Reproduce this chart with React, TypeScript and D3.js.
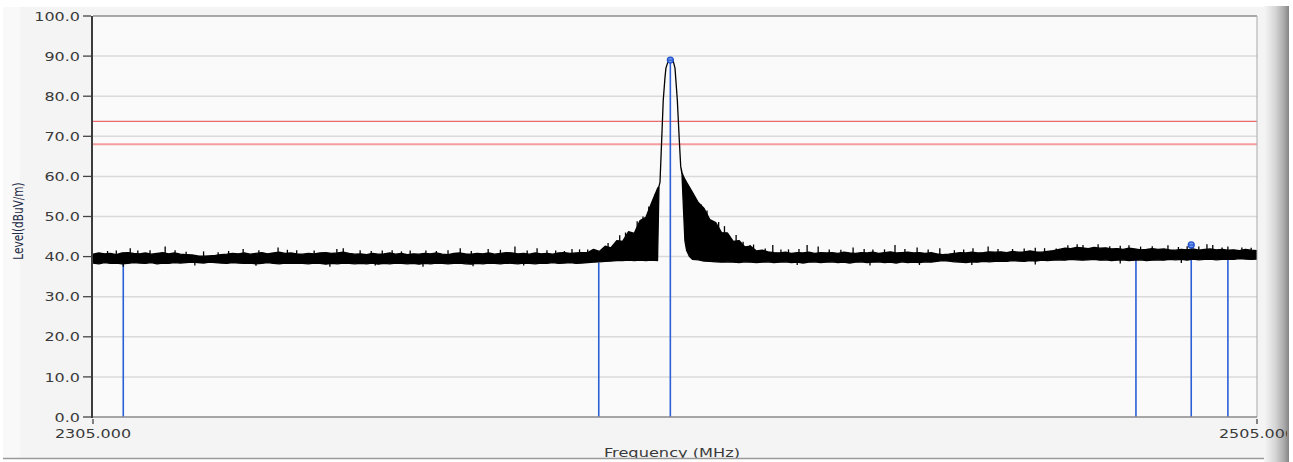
import * as d3 from "d3";

// spectrum trace (dBuV/m)
// noise band left of the carrier, 1 MHz steps from 2305 to 2402
const leftFreq = d3.range(2305, 2403);
const leftHi = [
  40.6, 40.9, 40.7, 40.8, 40.5, 40.9, 41.0, 40.8, 40.7, 40.9, 40.6, 40.8, 41.0, 40.7, 40.9, 40.6,
  40.5, 40.4, 40.2, 40.1, 40.2, 40.3, 40.5, 40.6, 40.8, 40.7,
  40.9, 40.6, 40.8, 41.0, 40.7, 40.9, 41.1, 40.8, 40.9, 40.7,
  40.6, 40.8, 40.7, 40.9, 41.0, 40.8, 40.9, 41.1, 40.8, 40.6,
  40.7, 40.5, 40.8, 40.6, 40.7, 40.9, 40.6, 40.8, 40.5, 40.7,
  40.6, 40.8, 40.7, 40.9, 40.6, 40.5, 40.8, 40.9, 40.7, 40.6,
  40.8, 40.7, 40.9, 40.6, 40.8, 41.0, 40.9, 40.7, 40.8, 40.6,
  40.9, 40.7, 40.8, 40.6, 40.9, 41.0, 40.8, 40.9, 41.0,
  41.0, 41.8, 41.3, 42.6, 42.2, 44.0, 43.8, 46.2, 45.8, 49.0, 49.8, 53.5, 57.0,
];
const leftLo = [
  38.4, 38.2, 38.5, 38.3, 38.4, 38.2, 38.3, 38.5, 38.4, 38.3, 38.5, 38.2, 38.4, 38.3, 38.5, 38.4,
  38.5, 38.6, 38.5, 38.4, 38.6, 38.5, 38.4, 38.3, 38.5, 38.4,
  38.3, 38.4, 38.2, 38.3, 38.5, 38.3, 38.2, 38.4, 38.3, 38.4,
  38.3, 38.2, 38.4, 38.3, 38.1, 38.3, 38.2, 38.4, 38.3, 38.2,
  38.3, 38.2, 38.4, 38.1, 38.3, 38.2, 38.4, 38.3, 38.2, 38.3,
  38.1, 38.3, 38.2, 38.4, 38.3, 38.2, 38.3, 38.4, 38.2, 38.1,
  38.3, 38.2, 38.4, 38.3, 38.2, 38.4, 38.3, 38.2, 38.4, 38.3,
  38.2, 38.4, 38.3, 38.5, 38.3, 38.4, 38.5, 38.3, 38.4,
  38.5, 38.6, 38.7, 38.8, 38.9, 39.0, 39.0, 39.1, 39.0, 39.1, 39.0, 39.1, 39.0,
];

// main lobe of the carrier (smooth trace)
const lobeFreq = [2402.25, 2402.42, 2402.71, 2402.98, 2403.27, 2403.44, 2403.84, 2404.14, 2404.48, 2404.74, 2405.0, 2405.4, 2405.74, 2405.98];
const lobeLevel = [57.5, 58.5, 69.0, 79.0, 84.5, 87.0, 88.8, 89.2, 89.2, 88.5, 87.0, 79.0, 69.0, 62.5];

// start of the right skirt
const skirtFreq = [2406.2, 2406.45, 2406.7, 2407.0, 2407.5, 2408.0];
const skirtHi = [61.0, 60.0, 59.3, 58.5, 57.3, 56.0];
const skirtLo = [60.5, 52.0, 44.0, 41.5, 40.0, 39.3];

// noise band right of the carrier, 1 MHz steps from 2409 to 2505
const rightFreq = d3.range(2409, 2506);
const rightHi = [
  53.5, 52.0, 49.2, 48.5, 46.0, 45.9, 43.8, 44.0, 42.4, 42.6, 41.4, 41.6,
  41.2, 41.0, 40.9, 41.1, 40.8, 41.0, 40.9, 41.1, 40.8, 41.0,
  40.9, 41.0, 40.8, 41.1, 40.9, 40.8, 41.0, 40.9, 41.1, 40.8,
  41.0, 41.2, 40.9, 41.0, 41.1, 40.9, 41.0, 40.8, 41.0, 40.7,
  40.5, 40.6, 40.8, 41.0, 40.9, 41.1, 40.9, 41.0, 41.2, 41.1,
  41.2, 41.0, 41.3, 41.1, 41.2, 41.4, 41.2, 41.1, 41.3, 41.5,
  41.8, 42.1, 42.0, 42.3, 42.2, 42.0, 42.3, 42.1, 42.2, 41.9,
  42.0, 41.8, 42.1, 41.9, 41.7, 41.8, 42.0, 41.8, 41.9, 41.7,
  41.6, 41.8, 41.7, 41.9, 41.6, 41.8, 41.9, 41.7, 41.8, 41.6,
  41.7, 41.5, 41.8, 41.6, 41.5,
];
const rightLo = [
  39.2, 38.9, 38.8, 38.7, 38.6, 38.7, 38.6, 38.5, 38.7, 38.6, 38.5, 38.6,
  38.7, 38.5, 38.6, 38.7, 38.5, 38.6, 38.4, 38.6, 38.7, 38.5,
  38.6, 38.7, 38.5, 38.6, 38.4, 38.6, 38.7, 38.5, 38.6, 38.7,
  38.5, 38.6, 38.4, 38.7, 38.5, 38.6, 38.5, 38.7, 38.6, 38.8,
  39.0, 38.9, 38.7, 38.6, 38.5, 38.7, 38.6, 38.8, 38.7, 38.8,
  38.9, 38.8, 39.0, 38.9, 38.8, 39.0, 38.9, 39.1, 39.0, 39.1,
  39.2, 39.1, 39.3, 39.2, 39.1, 39.2, 39.3, 39.1, 39.2, 39.0,
  39.1, 39.2, 39.0, 39.1, 39.2, 39.0, 39.1, 39.2, 39.1, 39.3,
  39.2, 39.3, 39.1, 39.4, 39.2, 39.3, 39.4, 39.2, 39.3, 39.4,
  39.3, 39.5, 39.4, 39.3, 39.4,
];

// single-bin spikes above the noise band
const spikeFreq = [
  2307.5, 2309.0, 2311.4, 2312.7, 2314.8, 2317.4, 2319.1, 2321.0, 2324.0, 2326.5, 2328.3, 2330.8,
  2333.5, 2336.8, 2338.4, 2340.0, 2343.0, 2346.9, 2348.0, 2350.9, 2352.8, 2354.7, 2356.4, 2358.0,
  2359.5, 2362.2, 2364.0, 2366.0, 2368.1, 2370.0, 2372.9, 2375.0, 2377.5, 2379.6, 2381.3, 2383.0,
  2384.5, 2386.0, 2387.3, 2388.6, 2390.0, 2393.5, 2395.5, 2396.5, 2398.5, 2399.5, 2400.5, 2401.5,
  2409.5, 2410.5, 2412.5, 2413.5, 2415.5, 2416.7, 2417.9, 2418.5, 2420.5, 2421.8, 2423.2, 2424.5,
  2426.3, 2427.7, 2429.6, 2431.5, 2433.5, 2435.6, 2437.5, 2439.0, 2441.0, 2442.8, 2444.5, 2446.6,
  2448.5, 2450.5, 2453.0, 2454.6, 2456.2, 2458.8, 2460.5, 2463.0, 2465.0, 2466.9, 2468.5, 2470.5,
  2472.5, 2474.1, 2475.1, 2477.7, 2479.7, 2481.5, 2483.0, 2485.0, 2487.0, 2489.7, 2491.5, 2493.0,
  2495.0, 2496.4, 2497.4, 2499.0, 2500.0, 2502.4, 2504.0,
];
const spikeLevel = [
  41.4, 41.5, 42.1, 41.5, 41.6, 42.5, 41.6, 41.2, 41.3, 41.1, 41.4, 41.9,
  41.6, 42.3, 41.7, 41.6, 41.5, 41.9, 42.1, 41.6, 41.4, 41.5, 41.6, 41.3,
  41.5, 41.5, 41.4, 41.6, 42.1, 41.4, 41.9, 41.7, 42.5, 41.5, 42.1, 41.6,
  41.5, 41.4, 41.9, 41.8, 41.8, 43.4, 45.3, 46.0, 48.8, 50.0, 52.5, 55.5,
  53.0, 51.5, 48.6, 47.6, 45.4, 43.7, 42.9, 43.0, 42.0, 42.9, 41.8, 41.8,
  41.9, 42.9, 42.5, 41.8, 41.7, 42.3, 41.9, 41.8, 41.8, 42.9, 41.9, 42.3,
  41.8, 42.1, 41.6, 41.8, 42.1, 42.5, 41.9, 41.9, 42.0, 42.2, 42.1, 42.0,
  42.8, 43.1, 42.9, 43.1, 42.6, 42.7, 42.8, 42.5, 42.6, 42.8, 42.4, 42.6,
  42.5, 43.1, 42.9, 42.3, 42.5, 42.3, 42.2,
];
// and below it
const dipFreq = [2310.2, 2322.5, 2333.0, 2345.7, 2353.5, 2361.7, 2370.3, 2379.0, 2426.0, 2438.5, 2447.0, 2456.0, 2466.9, 2481.5, 2492.0];
const dipLevel = [37.5, 37.8, 37.7, 37.5, 37.8, 37.5, 37.6, 37.8, 37.9, 37.8, 37.9, 37.9, 38.0, 38.3, 38.4];

// markers and limit lines
const markerFreq = [2310.2, 2391.9, 2404.2, 2484.2, 2493.7, 2500.0];
const markerLevel = [38.5, 38.5, 89.0, 39.2, 42.9, 39.3];
const markerDot = [false, false, true, false, true, false];
const limitLevels = [73.7, 68.0];
const limitColors = ["#e86a6a", "#f79c9c"];
const limitWidths = [1.2, 2];

const yTicks = [0, 10, 20, 30, 40, 50, 60, 70, 80, 90, 100];
const xTicks = [2305, 2505];

const W = 1293;
const H = 462;
const FONT = "'DejaVu Sans', Verdana, sans-serif";

export default function App() {
  const x = d3.scaleLinear().domain([2305, 2505]).range([93, 1257]);
  const y = d3.scaleLinear().domain([0, 100]).range([417, 16]);

  const trace = [
    ...leftFreq.map((f, i) => ({ f, hi: leftHi[i], lo: leftLo[i] })),
    ...lobeFreq.map((f, i) => ({ f, hi: lobeLevel[i], lo: lobeLevel[i] })),
    ...skirtFreq.map((f, i) => ({ f, hi: skirtHi[i], lo: skirtLo[i] })),
    ...rightFreq.map((f, i) => ({ f, hi: rightHi[i], lo: rightLo[i] })),
  ];

  const area = d3
    .area<{ f: number; hi: number; lo: number }>()
    .x((d) => x(d.f))
    .y0((d) => y(d.lo))
    .y1((d) => y(d.hi));

  const [x0, x1] = x.range();
  const [yb, yt] = y.range();

  return (
    <svg
      width={W}
      height={H}
      style={{ position: "absolute", left: 0, top: 0, background: "#fff" }}
    >
      <defs>
        <linearGradient id="edge" x1="0" x2="1" y1="0" y2="0">
          <stop offset="0" stopColor="#f6f6f6" />
          <stop offset="0.45" stopColor="#d6d6d6" />
          <stop offset="0.8" stopColor="#aaaaaa" />
          <stop offset="1" stopColor="#858585" />
        </linearGradient>
        <clipPath id="plot">
          <rect x={x0} y={yt} width={x1 - x0} height={yb - yt} />
        </clipPath>
        <clipPath id="win">
          <rect x={0} y={0} width={1287} height={H} />
        </clipPath>
      </defs>

      {/* panel */}
      <rect x={3} y={7} width={1262} height={451} fill="#f4f4f4" />
      <rect x={3} y={7} width={17} height={451} fill="#f9f9f9" />
      <rect x={x0} y={yt} width={x1 - x0} height={yb - yt} fill="#fafafa" />

      {/* grid */}
      {yTicks.slice(1, -1).map((t) => (
        <line key={t} x1={x0} x2={x1} y1={y(t)} y2={y(t)} stroke="#dadada" strokeWidth={1.5} />
      ))}

      {/* limit lines */}
      {limitLevels.map((l, i) => (
        <line key={l} x1={x0} x2={x1} y1={y(l)} y2={y(l)} stroke={limitColors[i]} strokeWidth={limitWidths[i]} />
      ))}

      <g clipPath="url(#plot)">
        {/* marker lines */}
        {markerFreq.map((f, i) => (
          <line key={f} x1={x(f)} x2={x(f)} y1={yb} y2={y(markerLevel[i])} stroke="#2b5fd6" strokeWidth={1.6} />
        ))}

        {/* trace */}
        <path d={area(trace) || ""} fill="#000" stroke="#000" strokeWidth={1.3} strokeLinejoin="round" />
        {spikeFreq.map((f, i) => (
          <line key={"s" + i} x1={x(f)} x2={x(f)} y1={y(40)} y2={y(spikeLevel[i])} stroke="#000" strokeWidth={1.3} />
        ))}
        {dipFreq.map((f, i) => (
          <line key={"d" + i} x1={x(f)} x2={x(f)} y1={y(39.5)} y2={y(dipLevel[i])} stroke="#000" strokeWidth={1.3} />
        ))}

        {/* marker heads */}
        {markerFreq.map((f, i) =>
          markerDot[i] ? (
            <g key={"m" + f}>
              <circle cx={x(f)} cy={y(markerLevel[i])} r={3} fill="#6f95f0" stroke="#1f4fc8" strokeWidth={1.2} />
              <line x1={x(f) - 3} x2={x(f) + 3} y1={y(markerLevel[i])} y2={y(markerLevel[i])} stroke="#1f4fc8" strokeWidth={1} />
            </g>
          ) : null
        )}
      </g>

      {/* frame */}
      <line x1={x0} x2={x1} y1={yt} y2={yt} stroke="#5a5a5a" strokeWidth={1} />
      <line x1={x1} x2={x1} y1={yt} y2={yb} stroke="#a8a8a8" strokeWidth={1} />
      <line x1={x0} x2={x1} y1={yb} y2={yb} stroke="#8a8a8a" strokeWidth={1.5} />
      <line x1={x0 - 1} x2={x0 - 1} y1={yt} y2={yb + 1} stroke="#3c3c3c" strokeWidth={2} />

      {/* y axis */}
      {yTicks.map((t) => (
        <g key={t}>
          <line x1={83} x2={x0 - 2} y1={y(t)} y2={y(t)} stroke="#444" strokeWidth={1.3} />
          <g transform={`translate(80,${y(t) + 4.6}) scale(1.3,1)`}>
            <text textAnchor="end" fontFamily={FONT} fontSize={12.3} fill="#3a3a3a">
              {t.toFixed(1)}
            </text>
          </g>
        </g>
      ))}
      <g transform={`translate(23,221) scale(1.27,1) rotate(-90)`}>
        <text textAnchor="middle" fontFamily={FONT} fontSize={10.5} fill="#1e2a44">
          Level(dBuV/m)
        </text>
      </g>

      <g transform={`translate(672,457) scale(1.35,1)`}>
        <text textAnchor="middle" fontFamily={FONT} fontSize={12} fill="#3a3a3a">
          Frequency (MHz)
        </text>
      </g>

      {/* bottom edge */}
      <rect x={0} y={458} width={W} height={4} fill="#fff" />
      <line x1={3} x2={1282} y1={458.5} y2={458.5} stroke="#9a9a9a" strokeWidth={1.5} />

      {/* right window edge */}
      <rect x={1264} y={6} width={25} height={H - 6} fill="url(#edge)" />

      {/* x axis */}
      <g clipPath="url(#win)">
        {xTicks.map((t) => (
          <g key={t}>
            <line x1={x(t)} x2={x(t)} y1={yb + 2} y2={yb + 7} stroke="#444" strokeWidth={1.3} />
            <g transform={`translate(${x(t)},438) scale(1.3,1)`}>
              <text textAnchor="middle" fontFamily={FONT} fontSize={12.3} fill="#3a3a3a">
                {t.toFixed(3)}
              </text>
            </g>
          </g>
        ))}
      </g>
    </svg>
  );
}
